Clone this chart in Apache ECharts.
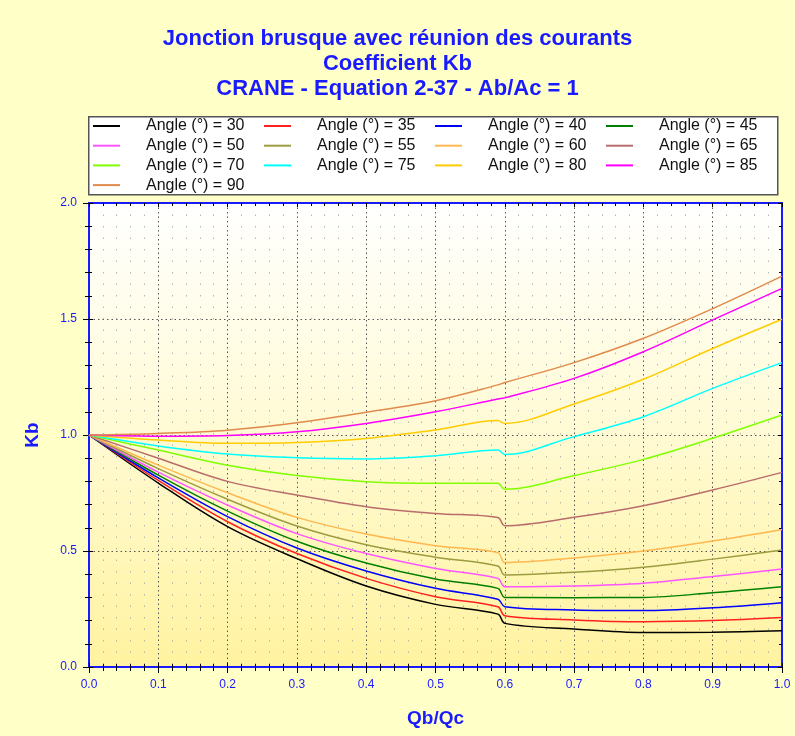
<!DOCTYPE html>
<html>
<head>
<meta charset="utf-8">
<script src="https://cdn.jsdelivr.net/npm/echarts@6/dist/echarts.min.js"></script>
<style>
html, body { margin: 0; padding: 0; background: #ffffc8; }
#container { width: 795px; height: 736px; }
</style>
</head>
<body>
<div id="container"></div>
<script>
// Qb/Qc sample points (0.59 / 0.60 bracket the jump)
var qbqc = [0, 0.1, 0.2, 0.3, 0.4, 0.5, 0.59, 0.6, 0.7, 0.8, 0.9, 1.0];

var kb30 = [1.0, 0.793, 0.605, 0.467, 0.349, 0.270, 0.228, 0.188, 0.164, 0.149, 0.150, 0.156];
var kb35 = [1.0, 0.804, 0.626, 0.489, 0.382, 0.303, 0.260, 0.221, 0.203, 0.195, 0.200, 0.213];
var kb40 = [1.0, 0.815, 0.648, 0.513, 0.414, 0.339, 0.292, 0.260, 0.246, 0.243, 0.255, 0.277];
var kb45 = [1.0, 0.827, 0.672, 0.542, 0.448, 0.379, 0.339, 0.300, 0.299, 0.300, 0.320, 0.346];
var kb50 = [1.0, 0.840, 0.698, 0.575, 0.489, 0.425, 0.382, 0.346, 0.349, 0.361, 0.390, 0.422];
var kb55 = [1.0, 0.855, 0.723, 0.608, 0.527, 0.473, 0.435, 0.397, 0.408, 0.430, 0.465, 0.504];
var kb60 = [1.0, 0.870, 0.751, 0.645, 0.573, 0.523, 0.493, 0.450, 0.470, 0.500, 0.543, 0.593];
var kb65 = [1.0, 0.900, 0.800, 0.741, 0.691, 0.662, 0.644, 0.609, 0.645, 0.695, 0.763, 0.839];
var kb70 = [1.0, 0.935, 0.870, 0.825, 0.799, 0.792, 0.792, 0.766, 0.825, 0.895, 0.986, 1.086];
var kb75 = [1.0, 0.953, 0.918, 0.902, 0.897, 0.911, 0.935, 0.916, 0.993, 1.079, 1.201, 1.312];
var kb80 = [1.0, 0.978, 0.964, 0.968, 0.985, 1.022, 1.062, 1.050, 1.134, 1.240, 1.373, 1.499];
var kb85 = [1.0, 0.995, 0.998, 1.014, 1.050, 1.100, 1.155, 1.160, 1.244, 1.359, 1.496, 1.632];
var kb90 = [1.0, 1.007, 1.021, 1.053, 1.098, 1.148, 1.216, 1.226, 1.312, 1.417, 1.545, 1.685];

var angles = [30, 35, 40, 45, 50, 55, 60, 65, 70, 75, 80, 85, 90];
var kbValues = [kb30, kb35, kb40, kb45, kb50, kb55, kb60, kb65, kb70, kb75, kb80, kb85, kb90];
var colors = ['#000000', '#ff2020', '#0000ff', '#008000', '#ff55ff', '#9c9c40', '#ffb850',
              '#b86c6c', '#80ff00', '#00ffff', '#ffcc00', '#ff00ff', '#e08a4c'];

var xTicks = { min: 0, max: 1, interval: 0.1 };
var yTicks = { min: 0, max: 2, interval: 0.5 };

var blue = '#1a1aff';

var series = [];
for (var i = 0; i < angles.length; i++) {
    var pts = [];
    for (var j = 0; j < qbqc.length; j++) {
        pts.push([qbqc[j], kbValues[i][j]]);
    }
    series.push({
        name: 'Angle (°) = ' + angles[i],
        type: 'line',
        xAxisIndex: 0,
        yAxisIndex: 0,
        symbol: 'none',
        smooth: 0.35,
        lineStyle: { width: 1.5, color: colors[i] },
        itemStyle: { color: colors[i] },
        data: pts
    });
}

// legend: 4 columns, names filled row by row
var legends = [];
for (var c = 0; c < 4; c++) {
    var names = [];
    for (var k = c; k < series.length; k += 4) names.push(series[k].name);
    legends.push({
        orient: 'vertical',
        left: 93 + 171 * c,
        top: 118,
        padding: 0,
        icon: 'rect',
        itemWidth: 27,
        itemHeight: 2,
        itemGap: 3.7,
        textStyle: {
            color: '#111', fontSize: 16, fontFamily: 'Liberation Sans',
            padding: [0, 0, 0, 21]
        },
        data: names
    });
}

function xAxisDef(pos, main, inside) {
    return {
        type: 'value',
        position: pos,
        min: xTicks.min, max: xTicks.max, interval: xTicks.interval,
        name: main ? 'Qb/Qc' : '',
        nameLocation: 'middle',
        nameGap: 42,
        nameTextStyle: { color: blue, fontWeight: 'bold', fontSize: 19, fontFamily: 'Liberation Sans' },
        axisLine: { show: true, onZero: false, lineStyle: { color: blue, width: 2 } },
        axisTick: { show: true, inside: inside, length: inside ? 4 : 6, lineStyle: { color: '#000' } },
        minorTick: { show: true, splitNumber: 5, length: inside ? 3 : 4, lineStyle: { color: '#000' } },
        axisLabel: {
            show: main, color: blue, fontSize: 12, fontFamily: 'Liberation Sans', margin: 12,
            formatter: function (v) { return v.toFixed(1); }
        },
        splitLine: { show: main, lineStyle: { color: '#555', type: [1.5, 3], width: 1 } },
        minorSplitLine: { show: main, lineStyle: { color: '#999', type: [1.5, 10], width: 1, opacity: 0.7 } }
    };
}

function yAxisDef(pos, main, inside) {
    return {
        type: 'value',
        position: pos,
        min: yTicks.min, max: yTicks.max, interval: yTicks.interval,
        name: main ? 'Kb' : '',
        nameLocation: 'middle',
        nameGap: 47,
        nameTextStyle: { color: blue, fontWeight: 'bold', fontSize: 19, fontFamily: 'Liberation Sans' },
        axisLine: { show: true, onZero: false, lineStyle: { color: blue, width: 2 } },
        axisTick: { show: true, inside: inside, length: inside ? 4 : 6, lineStyle: { color: '#000' } },
        minorTick: { show: true, splitNumber: 5, length: inside ? 3 : 4, lineStyle: { color: '#000' } },
        axisLabel: {
            show: main, color: blue, fontSize: 12, fontFamily: 'Liberation Sans', margin: 12,
            formatter: function (v) { return v.toFixed(1); }
        },
        splitLine: { show: main, lineStyle: { color: '#555', type: [1.5, 3], width: 1 } },
        minorSplitLine: { show: false }
    };
}

var dom = document.getElementById('container');
var myChart = echarts.init(dom);

var option = {
    backgroundColor: '#ffffc8',
    animation: false,
    title: {
        text: 'Jonction brusque avec réunion des courants\nCoefficient Kb\nCRANE - Equation 2-37 - Ab/Ac = 1',
        left: 'center',
        top: 21,
        textStyle: { color: blue, fontSize: 22, fontWeight: 'bold', lineHeight: 25, fontFamily: 'Liberation Sans' }
    },
    // legend frame
    graphic: [{
        type: 'rect',
        left: 88,
        top: 116,
        z: 0,
        shape: { width: 689, height: 78 },
        style: { fill: '#ffffff', stroke: '#555555', lineWidth: 1.5 }
    }],
    legend: legends,
    grid: {
        left: 89,
        right: 13,
        top: 203,
        bottom: 69,
        show: true,
        borderWidth: 0,
        backgroundColor: new echarts.graphic.LinearGradient(0, 0, 0, 1, [
            { offset: 0, color: '#ffffff' },
            { offset: 0.45, color: '#fffbd8' },
            { offset: 1, color: '#fff3a0' }
        ])
    },
    xAxis: [
        xAxisDef('bottom', true, false),
        xAxisDef('top', false, true),
        xAxisDef('bottom', false, true)
    ],
    yAxis: [
        yAxisDef('left', true, false),
        yAxisDef('right', false, true),
        yAxisDef('left', false, true)
    ],
    series: series
};

myChart.setOption(option, true);
</script>
</body>
</html>
